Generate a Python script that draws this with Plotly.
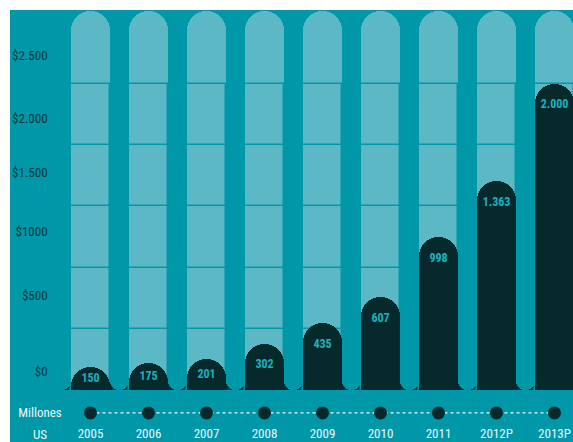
import plotly.graph_objects as go

# ---- data ----
years = ["2005", "2006", "2007", "2008", "2009", "2010", "2011", "2012P", "2013P"]
values = [150, 175, 201, 302, 435, 607, 998, 1363, 2000]
value_labels = ["150", "175", "201", "302", "435", "607", "998", "1.363", "2.000"]
ytick_text = ["$2.500", "$2.000", "$1.500", "$1000", "$500", "$0"]
ytick_pos = [2176, 1765, 1412, 1026, 608, 111]
column_levels = [0, 400, 800, 1200, 1600, 2000]
column_top = 2480

# ---- styles ----
BG = "#0097A8"
LIGHT = "#5CB8C4"
DARK = "#062A2B"
NUM = "#1BB2BF"
YLAB = "#0B3539"
WHITE = "#EAF7F8"
FONT = "Roboto Condensed, Liberation Sans Narrow, Roboto, sans-serif"
BW = 0.672
TOP = 2484
YMIN = -340
XR = [-1.388, 8.319]
DOT_Y = -150
YEAR_Y = -294
LABEL_DROP = 140  # how far below the bar top the value label sits (data units)

xs = list(range(len(years)))
fig = go.Figure()

# full light columns with rounded tops
fig.add_trace(go.Bar(
    x=xs, y=[column_top] * len(xs), width=BW,
    marker=dict(color=LIGHT, line=dict(width=0), cornerradius="50%"),
    hoverinfo="skip", showlegend=False))

# segments (to draw separator lines)
for k in range(len(column_levels) - 1):
    lo, hi = column_levels[k], column_levels[k + 1]
    fig.add_trace(go.Bar(
        x=xs, y=[hi - lo] * len(xs), base=[lo] * len(xs), width=BW,
        marker=dict(color=LIGHT, line=dict(color=BG, width=1.5), cornerradius=0),
        hoverinfo="skip", showlegend=False))

# dark strip at the baseline (feet of the bars)
fig.add_shape(type="rect", xref="x", yref="y", x0=-0.47, x1=8.6, y0=0, y1=70,
              fillcolor=DARK, line=dict(width=0), layer="below")

# teal gap pillars with rounded bottoms
gaps = [i - 0.5 for i in range(len(years) + 1)]
fig.add_trace(go.Bar(
    x=gaps, y=[-TOP] * len(gaps), base=[TOP] * len(gaps), width=1 - BW,
    marker=dict(color=BG, line=dict(width=0), cornerradius="50%"),
    hoverinfo="skip", showlegend=False))

# dark value bars (own overlaying axis so rounding works)
fig.add_trace(go.Bar(
    x=xs, y=values, width=BW, xaxis="x2",
    marker=dict(color=DARK, line=dict(width=0), cornerradius="50%"),
    hoverinfo="skip", showlegend=False))

# value labels inside the bars
label_y = [v - min(v / 2, LABEL_DROP) for v in values]
fig.add_trace(go.Scatter(
    x=xs, y=label_y, mode="text", text=value_labels, xaxis="x2",
    textfont=dict(family=FONT, size=12, color=NUM, weight="bold"),
    hoverinfo="skip", showlegend=False))

# timeline with dots
fig.add_trace(go.Scatter(
    x=xs, y=[DOT_Y] * len(xs), mode="lines+markers", xaxis="x2",
    line=dict(color=WHITE, width=1.3, dash="3px,3px"),
    marker=dict(color=DARK, size=13),
    hoverinfo="skip", showlegend=False))

# year labels
fig.add_trace(go.Scatter(
    x=xs, y=[YEAR_Y] * len(xs), mode="text", text=years, xaxis="x2",
    textfont=dict(family=FONT, size=13, color=WHITE),
    hoverinfo="skip", showlegend=False))

# y labels
fig.add_trace(go.Scatter(
    x=[-0.74] * len(ytick_text), y=ytick_pos, mode="text", text=ytick_text,
    textposition="middle left", xaxis="x2",
    textfont=dict(family=FONT, size=13, color=YLAB),
    hoverinfo="skip", showlegend=False))

# unit label
fig.add_trace(go.Scatter(
    x=[-0.871, -0.871], y=[-157, -301], mode="text", text=["Millones", "US"],
    xaxis="x2",
    textfont=dict(family=FONT, size=13, color=WHITE),
    hoverinfo="skip", showlegend=False))

fig.update_layout(
    width=573, height=442,
    margin=dict(l=10, r=0, t=10, b=0),
    paper_bgcolor="white", plot_bgcolor=BG,
    barmode="overlay", bargap=0,
    xaxis=dict(range=XR, visible=False, fixedrange=True),
    xaxis2=dict(range=XR, visible=False, fixedrange=True, overlaying="x"),
    yaxis=dict(range=[YMIN, TOP], visible=False, fixedrange=True),
    showlegend=False,
)

fig.write_html("out.html")
